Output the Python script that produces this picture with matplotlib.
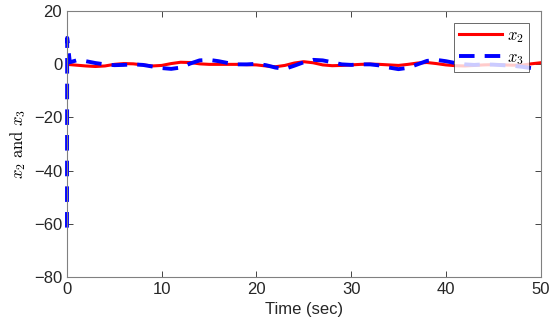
import numpy as np
import matplotlib.pyplot as plt

plt.rcParams['font.family'] = ['Liberation Sans', 'DejaVu Sans']
plt.rcParams['mathtext.fontset'] = 'cm'

# time samples (s); x3 has a fast start transient
t_x2 = list(range(0, 51))
x2 = [0, -0.3, -0.6, -0.8, -0.6, 0, 0.3, 0.2, -0.2, -0.6,
      -0.4, 0.3, 0.8, 0.7, 0.2, 0, 0, 0, 0, -0.1,
      -0.2, -0.6, -0.9, -0.4, 0.5, 1.0, 0.6, -0.2, -0.5, -0.4,
      -0.2, 0, 0.1, 0, -0.2, -0.4, 0, 0.5, 0.7, 0.3,
      -0.2, -0.5, -0.6, -0.4, -0.2, -0.1, -0.2, -0.3, -0.3, 0.2, 0.6]

t_x3 = [0, 0.02, 0.3] + list(range(1, 51))
x3 = [-61.5, 10, 0.8,
      1.5, 1.2, 0.5, 0, -0.3, -0.2, 0, -0.2, -0.8, -1.4,
      -1.7, -1.2, 0.3, 1.5, 1.7, 1.2, 0.5, 0, 0, 0.2,
      -0.3, -1.2, -1.7, -0.5, 0.8, 1.7, 1.5, 0.8, 0, -0.2,
      0, 0, -0.4, -1.2, -1.8, -1.3, 0, 1.3, 1.7, 1.2,
      0.5, 0, -0.2, 0, -0.1, -0.3, -0.5, -0.9, -1.4, -0.8]

fig = plt.figure(figsize=(5.5, 3.34), dpi=100)
ax = fig.add_axes([0.1218, 0.1716, 0.861, 0.7946])

ax.plot(t_x2, x2, color='red', lw=2.2, label=r'$x_2$')
ax.plot(t_x3, x3, color='blue', lw=2.8, ls=(0, (4, 2.6)), label=r'$x_3$',
        clip_on=False)

ax.set_xlim(0, 50)
ax.set_ylim(-80, 20)
ax.set_xticks([0, 10, 20, 30, 40, 50])
ax.set_yticks([-80, -60, -40, -20, 0, 20])
ax.tick_params(direction='in', top=True, right=True, labelsize=12,
               colors='#262626', length=4, width=0.6)
for s in ax.spines.values():
    s.set_color('#808080')
    s.set_linewidth(0.8)

ax.set_xlabel('Time (sec)', fontsize=12, color='#262626')
ax.set_ylabel(r'$x_2\ \mathrm{and}\ x_3$', fontsize=12)

leg = ax.legend(loc='upper right', fontsize=12, frameon=True, fancybox=False,
                edgecolor='#262626', borderpad=0.3, handlelength=2.6,
                labelspacing=0.3, handletextpad=0.3, borderaxespad=0.7)
leg.get_frame().set_linewidth(0.6)

fig.savefig('out.png', dpi=100)
